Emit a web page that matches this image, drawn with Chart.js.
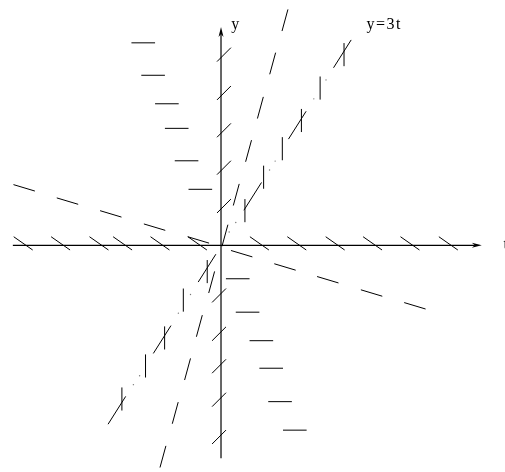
<!DOCTYPE html>
<html>
<head>
<meta charset="utf-8">
<script src="https://cdn.jsdelivr.net/npm/chart.js@4.4.1/dist/chart.umd.min.js"></script>
<style>
  html, body { margin: 0; padding: 0; background: #fff; overflow: hidden; }
  canvas { display: block; }
</style>
</head>
<body>
<canvas id="field" width="505" height="472"></canvas>
<script>
// DIRECTION FIELD DATA (t, y) - centres of the little slope marks
const xAxisMarks = [[-20.1, 0.2], [-16.3, 0.2], [-12.4, 0.2], [-10.0, 0.2], [-6.2, 0.2], [-2.4, 0.2],
                    [3.9, 0.2], [7.7, 0.2], [11.6, 0.2], [15.4, 0.2], [19.2, 0.2], [23.1, 0.2]];
const yAxisMarks = [[0.3, 19.4], [0.3, 15.5], [0.3, 11.7], [0.3, 7.9], [0.3, 4.0],
                    [-0.2, -5.1], [-0.2, -9.0], [-0.2, -12.3], [-0.2, -15.7], [-0.2, -19.5]];
const shallowMarks = [[-20.0, 5.85], [-15.6, 4.5], [-11.2, 3.2], [-6.75, 1.85], [-2.3, 0.55],
                      [2.1, -0.85], [6.5, -2.2], [10.85, -3.5], [15.3, -4.85], [19.7, -6.15]];
const flatMarks = [[-7.9, 20.6], [-6.9, 17.3], [-5.5, 14.4], [-4.5, 11.9], [-3.5, 8.6], [-2.1, 5.7],
                   [1.7, -3.4], [2.7, -6.8], [4.1, -9.7], [5.1, -12.5], [6.0, -15.9], [7.5, -18.8]];
const steepMarks = [[6.5, 22.9], [5.25, 18.5], [4.0, 14.0], [2.8, 9.6], [1.55, 5.15], [0.4, 1.0],
                    [-0.95, -3.75], [-2.2, -8.2], [-3.4, -12.6], [-4.65, -17.05], [-5.9, -21.5]];
const lineMarksVert = [[12.5, 19.4], [10.07, 16.0], [8.17, 12.7], [6.23, 9.83], [4.33, 6.93], [2.43, 3.53],
                       [-1.4, -2.67], [-3.83, -5.57], [-5.73, -9.42], [-7.67, -12.27], [-10.07, -15.63]];
const lineMarksDiag = [[12.33, 19.48], [7.75, 12.22], [3.22, 4.98], [-1.42, -2.32], [-5.98, -9.58], [-10.58, -16.78]];
const lineDots = [[10.67, 16.83], [9.43, 14.9], [5.5, 8.57], [4.93, 7.67], [1.5, 2.33], [0.83, 1.35],
                  [-3.1, -5.0], [-4.33, -6.9], [-8.27, -13.27], [-8.9, -14.17]];

// slopes and lengths of each family of marks
const slopes = { xAxis: -0.7, yAxis: 1, shallow: -0.3, flat: 0, steep: 3.67, vert: Infinity, diag: 1.58 };
const lengths = { xAxis: 2.35, yAxis: 2.0, shallow: 2.27, flat: 2.4, steep: 2.28, vert: 2.35, diag: 3.35 };

// axes
const tAxisRange = [-21.15, 26.5];
const yAxisRange = [-21.65, 22.2];

// labels
const labels = [
    { text: "y", t: 1.05, y: 21.98 },
    { text: "y=3t", t: 14.78, y: 22.05 },
    { text: "t", t: 28.7, y: -0.4 }
];

function segments(centers, slope, len) {
    const a = Math.atan(slope);
    const dx = Math.cos(a) * len / 2;
    const dy = Math.sin(a) * len / 2;
    const pts = [];
    centers.forEach(([t, y]) => {
        pts.push({ x: t - dx, y: y - dy }, { x: t + dx, y: y + dy }, { x: t, y: null });
    });
    return pts;
}

function lineSet(data, width) {
    return {
        data: data,
        borderColor: "#000",
        borderWidth: width || 1,
        pointRadius: 0,
        spanGaps: false,
        tension: 0
    };
}

// arrows + text drawn from the scales
const decorations = {
    id: "decorations",
    afterDatasetsDraw(chart) {
        const c = chart.ctx;
        const xs = chart.scales.x, ys = chart.scales.y;
        const ox = xs.getPixelForValue(0), oy = ys.getPixelForValue(0);

        c.save();
        c.fillStyle = "#000";
        // t arrow
        const tx = xs.getPixelForValue(tAxisRange[1]);
        c.beginPath();
        c.moveTo(tx, oy);
        c.lineTo(tx - 10, oy - 2.5);
        c.lineTo(tx - 7, oy);
        c.lineTo(tx - 10, oy + 2.5);
        c.closePath();
        c.fill();
        // y arrow
        const ty = ys.getPixelForValue(yAxisRange[1]);
        c.beginPath();
        c.moveTo(ox, ty);
        c.lineTo(ox - 2.5, ty + 10);
        c.lineTo(ox, ty + 7);
        c.lineTo(ox + 2.5, ty + 10);
        c.closePath();
        c.fill();

        c.font = "16px 'Liberation Serif', serif";
        c.letterSpacing = "1.5px";
        c.textAlign = "left";
        c.textBaseline = "alphabetic";
        labels.forEach(l => {
            c.fillText(l.text, xs.getPixelForValue(l.t), ys.getPixelForValue(l.y));
        });
        c.restore();
    }
};

new Chart(document.getElementById("field"), {
    type: "line",
    data: {
        datasets: [
            lineSet([{ x: tAxisRange[0], y: 0 }, { x: tAxisRange[1] - 0.7, y: 0 }], 1.2),
            lineSet([{ x: 0, y: yAxisRange[0] }, { x: 0, y: yAxisRange[1] - 0.7 }], 1.2),
            lineSet(segments(xAxisMarks, slopes.xAxis, lengths.xAxis)),
            lineSet(segments(yAxisMarks, slopes.yAxis, lengths.yAxis)),
            lineSet(segments(shallowMarks, slopes.shallow, lengths.shallow)),
            lineSet(segments(flatMarks, slopes.flat, lengths.flat)),
            lineSet(segments(steepMarks, slopes.steep, lengths.steep)),
            lineSet(segments(lineMarksVert, slopes.vert, lengths.vert)),
            lineSet(segments(lineMarksDiag, slopes.diag, lengths.diag)),
            {
                data: lineDots.map(([t, y]) => ({ x: t, y: y })),
                showLine: false,
                pointRadius: 0.7,
                pointBorderWidth: 0,
                pointBackgroundColor: "#777"
            }
        ]
    },
    options: {
        responsive: false,
        animation: false,
        devicePixelRatio: 1,
        layout: { padding: 0 },
        plugins: {
            legend: { display: false },
            tooltip: { enabled: false }
        },
        scales: {
            x: { type: "linear", min: -22.05, max: 28.45, display: false },
            y: { type: "linear", min: -22.65, max: 24.55, display: false }
        }
    },
    plugins: [decorations]
});
</script>
</body>
</html>
